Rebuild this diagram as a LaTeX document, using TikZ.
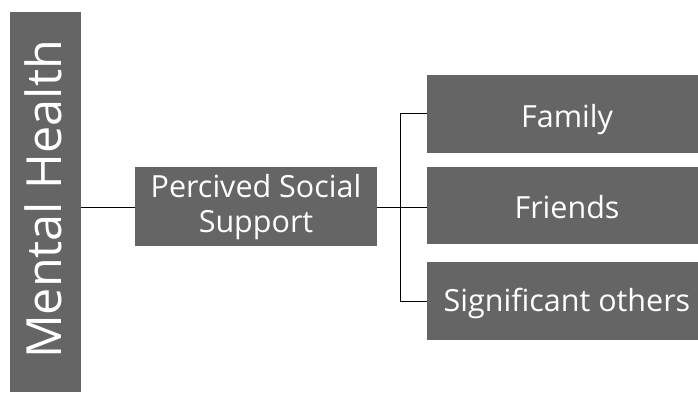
\documentclass[tikz,border=0pt]{standalone}
\usepackage{fontspec}
\setmainfont{Open Sans}
\definecolor{boxgray}{HTML}{656565}
\begin{document}
\begin{tikzpicture}[x=1pt,y=-1pt,
  box/.style={fill=boxgray,draw=none,inner sep=0pt},
  lbl/.style={text=white,inner sep=0pt,anchor=base,align=center,font=\fontsize{30.5}{35}\selectfont},
  conn/.style={draw=black,line width=0.9pt}]
\useasboundingbox (0,0) rectangle (698,394);
\node[box,minimum width=71pt,minimum height=380pt] (mh) at (45.5,202) {};
\node[text=white,inner sep=0pt,rotate=90,anchor=base,font=\fontsize{48.5}{52}\selectfont] (mht) at (61,199.5) {Mental Health};
\node[box,minimum width=242pt,minimum height=79pt] (pss) at (256,206) {};
\node[lbl,anchor=base] (psst1) at (256,197) {Percived Social};
\node[lbl,anchor=base] (psst2) at (256,232) {Support};
\node[box,minimum width=271pt,minimum height=78pt] (fam) at (562.5,114) {};
\node[lbl] (famt) at (567,127) {Family};
\node[box,minimum width=271pt,minimum height=77pt] (fri) at (562.5,205.5) {};
\node[lbl] (frit) at (567,218) {Friends};
\node[box,minimum width=271pt,minimum height=78pt] (sig) at (562.5,301) {};
\node[lbl] (sigt) at (567,311) {Significant others};
\coordinate (j) at (400,207);
\draw[conn] (mh.east |- 0,207) -- (pss.west |- 0,207);
\draw[conn] (pss.east |- 0,207) -- (j);
\draw[conn] (j) |- (fam.west |- 0,113);
\draw[conn] (j) -- (fri.west |- 0,207);
\draw[conn] (j) |- (sig.west |- 0,301);
\end{tikzpicture}
\end{document}
